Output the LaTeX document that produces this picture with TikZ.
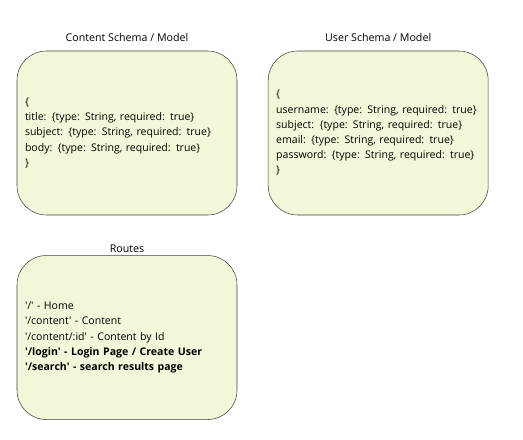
\documentclass[tikz,border=0pt]{standalone}
\usepackage{fontspec}
\setmainfont{Open Sans}[Ligatures=TeXOff]
\usetikzlibrary{positioning,shapes}
\definecolor{boxfill}{HTML}{F2F7D9}

\begin{document}
\begin{tikzpicture}[
    x=0.75pt, y=-0.75pt,
    node distance=23pt,
    schemabox/.style={
        rectangle, rounded corners=22pt, draw=black!75, fill=boxfill,
        minimum width=165pt, minimum height=123pt,
        text width=153pt, align=left, inner xsep=6pt,
        font=\fontsize{7.9}{11.4}\selectfont
      },
    titletext/.style={
        font=\fontsize{8}{9}\selectfont, inner sep=1pt
      },
  ]
  \useasboundingbox (0,0) rectangle (523,439);
  \node[schemabox](content) at (127,133) {\{\\
    title: \{type: String, required: true\}\\
    subject: \{type: String, required: true\}\\
    body: \{type: String, required: true\}\\
    \}};
  \node[schemabox](user) [right=of content] {\{\\
    username: \{type: String, required: true\}\\
    subject: \{type: String, required: true\}\\
    email: \{type: String, required: true\}\\
    password: \{type: String, required: true\}\\
    \}};
  \node[schemabox](routes) [below=30pt of content] {'/' - Home\\
    '/content' - Content\\
    '/content/:id' - Content by Id\\
    \textbf{'/login' - Login Page / Create User}\\
    \textbf{'/search' - search results page}};
  \node[titletext](contenttitle) [above=6pt of content] {Content Schema / Model};
  \node[titletext](usertitle) [above=6pt of user] {User Schema / Model};
  \node[titletext](routestitle) [above=1pt of routes] {Routes};
\end{tikzpicture}
\end{document}
